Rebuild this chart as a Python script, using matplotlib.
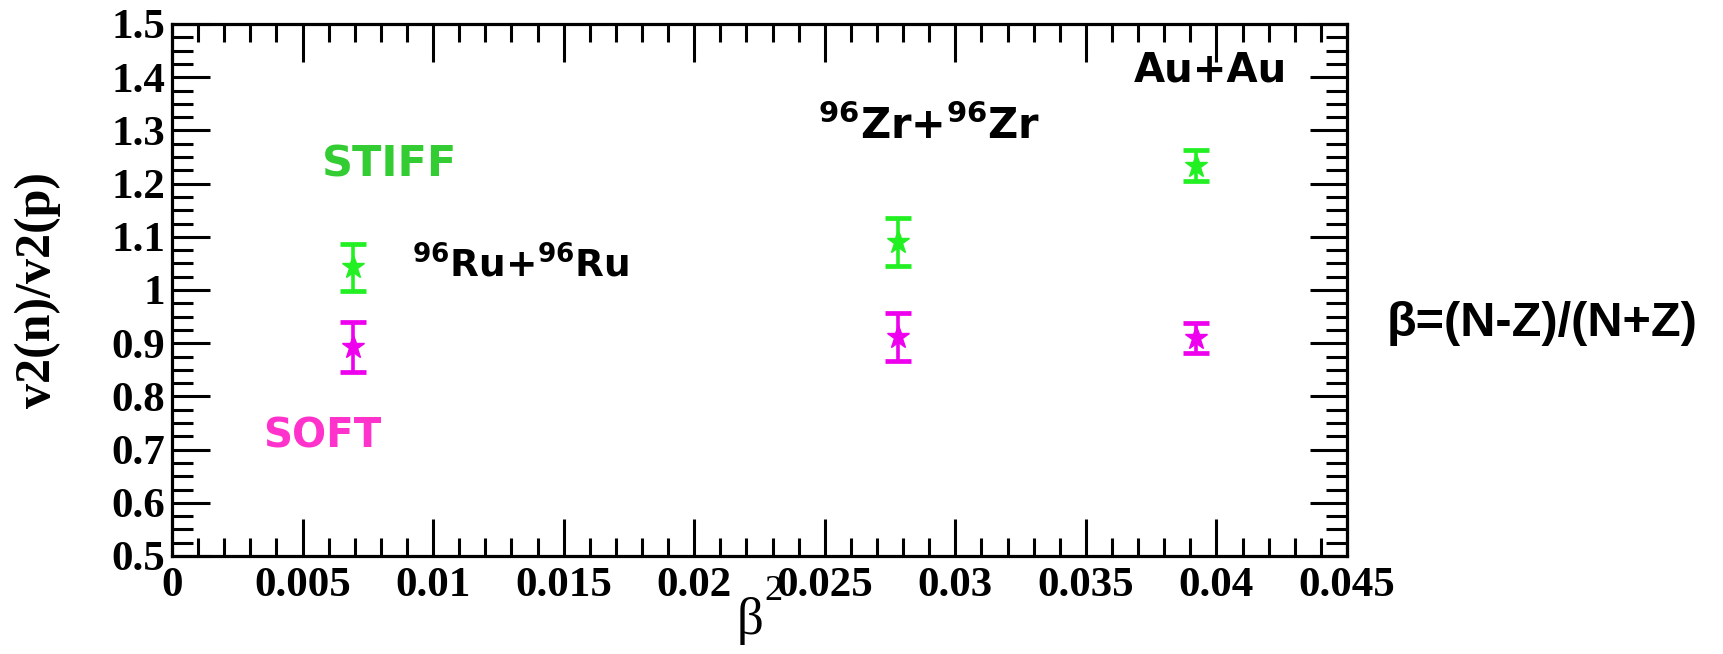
import numpy as np
import matplotlib
matplotlib.use("Agg")
import matplotlib.pyplot as plt
from matplotlib.ticker import MultipleLocator, FuncFormatter

# beta^2 of each colliding system
systems = ["96Ru+96Ru", "96Zr+96Zr", "Au+Au"]
beta2 = [0.00694, 0.0278, 0.0392]

# v2(n)/v2(p) for the two symmetry-energy choices
stiff_val = [1.043, 1.090, 1.234]
stiff_err = [0.044, 0.045, 0.030]
soft_val = [0.893, 0.911, 0.910]
soft_err = [0.047, 0.045, 0.028]

green = "#22f022"
magenta = "#ee00ee"

fig = plt.figure(figsize=(17.23, 6.54), dpi=100)
ax = fig.add_axes([172 / 1723, 1 - 556 / 654, (1347 - 172) / 1723, (556 - 24) / 654])

for vals, errs, col in [(stiff_val, stiff_err, green), (soft_val, soft_err, magenta)]:
    ax.errorbar(beta2, vals, yerr=errs, fmt="*", color=col, ms=17,
                elinewidth=2.6, capsize=9.5, capthick=3.4, zorder=3)

ax.set_xlim(0, 0.045)
ax.set_ylim(0.5, 1.5)
ax.xaxis.set_major_locator(MultipleLocator(0.005))
ax.xaxis.set_minor_locator(MultipleLocator(0.001))
ax.yaxis.set_major_locator(MultipleLocator(0.1))
ax.yaxis.set_minor_locator(MultipleLocator(0.025))
fmt = FuncFormatter(lambda v, p: "%g" % round(v, 4))
ax.xaxis.set_major_formatter(fmt)
ax.yaxis.set_major_formatter(fmt)

for s in ax.spines.values():
    s.set_linewidth(2.3)
ax.tick_params(which="both", direction="in", top=True, right=True, width=2.2)
ax.tick_params(which="major", length=27)
ax.tick_params(axis="x", which="minor", length=13)
ax.tick_params(axis="y", which="minor", length=15)
ax.tick_params(axis="x", which="major", pad=8)
ax.tick_params(axis="y", which="major", pad=5)
for lab in ax.get_xticklabels() + ax.get_yticklabels():
    lab.set_fontfamily("Liberation Serif")
    lab.set_fontweight("bold")
    lab.set_fontsize(31)

# annotations inside the frame
comic = "DejaVu Sans"
ax.text(0.00574, 1.236, "STIFF", color="#33cc33", fontsize=31, fontweight="bold",
        family=comic, va="center", ha="left")
ax.text(0.00348, 0.724, "SOFT", color="#ff33cc", fontsize=29, fontweight="bold",
        family=comic, va="center", ha="left")
ax.text(0.00918, 1.025, r"$\mathregular{^{96}}$Ru+$\mathregular{^{96}}$Ru",
        fontsize=27, fontweight="bold", family=comic, va="baseline", ha="left")
ax.text(0.02475, 1.283, r"$\mathregular{^{96}}$Zr+$\mathregular{^{96}}$Zr",
        fontsize=30, fontweight="bold", family=comic, va="baseline", ha="left")
ax.text(0.03684, 1.392, "Au+Au", fontsize=29, fontweight="bold",
        family=comic, va="baseline", ha="left")

# axis titles
fig.text(38 / 1723, 1 - 290 / 654, "v2(n)/v2(p)", rotation=90, family="Liberation Serif",
         fontweight="bold", fontsize=36, ha="center", va="center")
fig.text(750 / 1723, 1 - 621 / 654, "β", family="Liberation Serif", fontsize=38,
         ha="center", va="center")
fig.text(773 / 1723, 1 - 591 / 654, "2", family="Liberation Serif", fontsize=26,
         ha="center", va="center")

fig.text(1387 / 1723, 1 - 324 / 654, "β=(N-Z)/(N+Z)", family="Liberation Sans",
         fontweight="bold", fontsize=35, ha="left", va="center")

fig.savefig("out.png", dpi=100)
